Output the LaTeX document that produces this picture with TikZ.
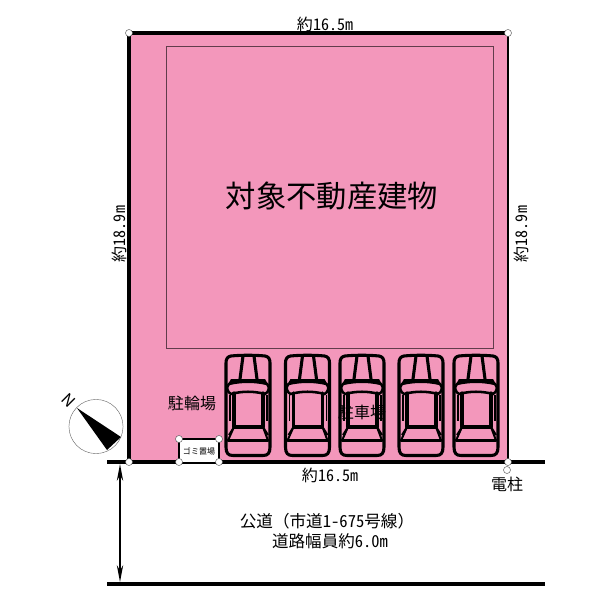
\documentclass[tikz,border=0pt]{standalone}
\usepackage{fontspec}
\setmainfont{Noto Sans CJK JP}[CharacterWidth=Half]
\newfontfamily\cjkfull{Noto Sans CJK JP}
\usetikzlibrary{arrows.meta}
\definecolor{sitepink}{HTML}{F397BB}
\newdimen\pxsize
\newcommand{\pxfont}[1]{\pxsize=#1pt \pxsize=1.423\pxsize \fontsize{\the\pxsize}{\the\pxsize}\selectfont}
\tikzset{
  x=0.05cm,y=-0.05cm,
  lbl/.style={inner sep=0pt,align=center,text=black},
  dot/.style={circle,draw=black!70,fill=white,line width=0.6pt,minimum size=10pt,inner sep=0pt},
  road/.style={line width=4.3pt},
  wall/.style={line width=4.3pt},
  carline/.style={line width=4.4pt,line join=round,line cap=round},
  carthin/.style={line width=2.8pt,line join=round},
  pics/car/.style={code={
    \draw[carline] (-17,1) .. controls (-8,0) and (8,0) .. (17,1) .. controls (20.5,1.5) and (22,4) .. (22,8) -- (22,92) .. controls (22,98) and (20,100.5) .. (15,100.5) -- (-15,100.5) .. controls (-20,100.5) and (-22,98) .. (-22,92) -- (-22,8) .. controls (-22,4) and (-20.5,1.5) .. (-17,1) -- cycle;
    \draw[carline] (-5,1) -- (-8,24) (6,1) -- (9,24);
    \fill (-17,24) -- (17,24) -- (21,31) -- (-21,31) -- cycle;
    \draw[line width=3.6pt,fill=sitepink] (-19,29) .. controls (-8,26) and (8,26) .. (19,29) .. controls (22,32) and (21,37) .. (17,39) .. controls (6,36) and (-6,36) .. (-17,39) .. controls (-21,37) and (-22,32) .. (-19,29) -- cycle;
    \draw[carline] (-14,38) -- (-14,72) -- (15,72) -- (15,38);
    \draw[carthin] (-18,40) -- (-18,66) (19,40) -- (19,66);
    \draw[carthin] (-14,72) -- (-19,80) (15,72) -- (20,80);
    \draw[carline] (-20,85.5) -- (20,85.5);
    \draw[carthin] (-14,72) -- (-20,85.5) (15,72) -- (20,85.5);
  }}
}
\begin{document}
\begin{tikzpicture}
\useasboundingbox (0,0) rectangle (600,600);
\fill[white] (0,0) rectangle (600,600);
\coordinate (tl) at (129,33);
\coordinate (tr) at (508,33);
\coordinate (bl) at (129,462);
\coordinate (br) at (508,462);
\coordinate (roadAl) at (107,462);
\coordinate (roadAr) at (545,462);
\coordinate (roadBl) at (107,584);
\coordinate (roadBr) at (545,584);
\coordinate (arrT) at (120,464);
\coordinate (arrB) at (120,582);
\fill[sitepink] (tl) rectangle (br);
\draw[black!60!sitepink,line width=0.8pt] (166,46) rectangle (493,348);
\draw[wall] (tl) -- (tr);
\draw[wall] (tl) -- (bl);
\draw[line width=3pt] (tr) -- (br);
\draw[road] (roadAl) -- (roadAr);
\draw[road] (roadBl) -- (roadBr);
\draw[{Stealth[length=24pt,width=9pt]}-{Stealth[length=24pt,width=9pt]},line width=2.4pt] (arrT) -- (arrB);
% cars
\pic at (248,355) {car};
\pic at (307.5,355) {car};
\pic at (362,355) {car};
\pic at (421,355) {car};
\pic at (476,355) {car};
% garbage box
\fill[white] (179,439) rectangle (219,462);
\draw[line width=3.2pt] (179,462) -- (179,439) -- (219,439) -- (219,462);
\node[lbl] (gomi) at (199,451.5) {\pxfont{8}ゴミ置場};
\foreach \n/\p in {a/{129,33},b/{508,33},c/{129,462},d/{508,462},e/{179,462},f/{219,462},g/{179,439},h/{219,439},i/{507,470}}
  \node[dot] (dot\n) at (\p) {};
% compass
\node[circle,draw=black!60,line width=0.6pt,minimum size=77pt,inner sep=0pt] (compass) at (96,426.5) {};
\fill (77,408) -- (121,437) -- (107,450) -- cycle;
\node[lbl,rotate=-45] (north) at (69,400) {\pxfont{16}\cjkfull N};
% labels
\node[lbl] (w1) at (325,24) {\pxfont{16}約16.5m};
\node[lbl,rotate=90] (w2) at (119,234) {\pxfont{16}約18.9m};
\node[lbl,rotate=90] (w3) at (521,234) {\pxfont{16}約18.9m};
\node[lbl] (w4) at (330,475) {\pxfont{16}約16.5m};
\node[lbl] (main) at (332,196) {\pxfont{30.3}対象不動産建物};
\node[lbl] (bike) at (192,403) {\pxfont{16}駐輪場};
\node[lbl] (park) at (362,412.5) {\pxfont{16}駐車場};
\node[lbl] (pole) at (507,484) {\pxfont{16}電柱};
\node[lbl] (road1) at (327,521) {\pxfont{16.6}公道{\cjkfull （}市道1-675号線{\cjkfull ）}};
\node[lbl] (road2) at (330,541) {\pxfont{16.5}道路幅員約6.0m};
\end{tikzpicture}
\end{document}
